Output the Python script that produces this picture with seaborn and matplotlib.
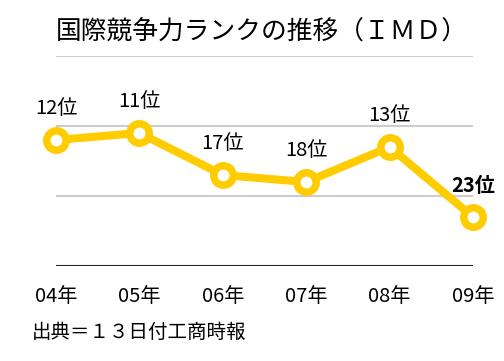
import matplotlib
matplotlib.use("Agg")
import matplotlib.pyplot as plt
import seaborn as sns
import pandas as pd

years = ["04年", "05年", "06年", "07年", "08年", "09年"]
ranks = [12, 11, 17, 18, 13, 23]
rank_labels = ["12位", "11位", "17位", "18位", "13位", "23位"]
grid_ranks = [0, 10, 20]

title = "国際競争力ランクの推移（ＩＭＤ）"
source = "出典＝１３日付工商時報"

def main():
    sns.set_style("white")
    plt.rcParams['font.family'] = ['Noto Sans CJK JP', 'DejaVu Sans']

    df = pd.DataFrame({"year": years, "rank": ranks})
    yellow = "#FFCC00"

    fig = plt.figure(figsize=(5.04, 3.61), dpi=100)
    ax = fig.add_axes([0.111, 0.263, 0.8275, 0.582])

    for g in grid_ranks:
        ax.axhline(g, color="#cccccc", lw=1.5, zorder=0)
    ax.axhline(30, color="#222222", lw=1.5, zorder=0)

    sns.lineplot(data=df, x="year", y="rank", ax=ax, color=yellow, lw=5.8,
                 marker="o", markersize=14, markeredgewidth=5.4,
                 markerfacecolor="white", markeredgecolor=yellow, sort=False,
                 clip_on=False)

    for i, (r, lab) in enumerate(zip(ranks, rank_labels)):
        bold = i == len(ranks) - 1
        ax.annotate(lab, (i, r), xytext=(0, 23), textcoords="offset points",
                    ha="center", va="center", fontsize=14.5,
                    fontweight="bold" if bold else "normal", color="black",
                    annotation_clip=False)

    ax.set_xlim(0, len(years) - 1)
    ax.set_ylim(30, 0)
    ax.set_yticks([])
    ax.set_xlabel("")
    ax.set_ylabel("")
    ax.tick_params(axis="x", length=0, pad=14, labelsize=14.5, labelcolor="black")
    for s in ax.spines.values():
        s.set_visible(False)

    fig.text(0.111, 0.912, title, fontsize=18.5, va="center", ha="left", color="black")
    fig.text(0.063, 0.078, source, fontsize=14, va="center", ha="left", color="black")

    fig.savefig("out.png", dpi=100)

if __name__ == "__main__":
    main()
